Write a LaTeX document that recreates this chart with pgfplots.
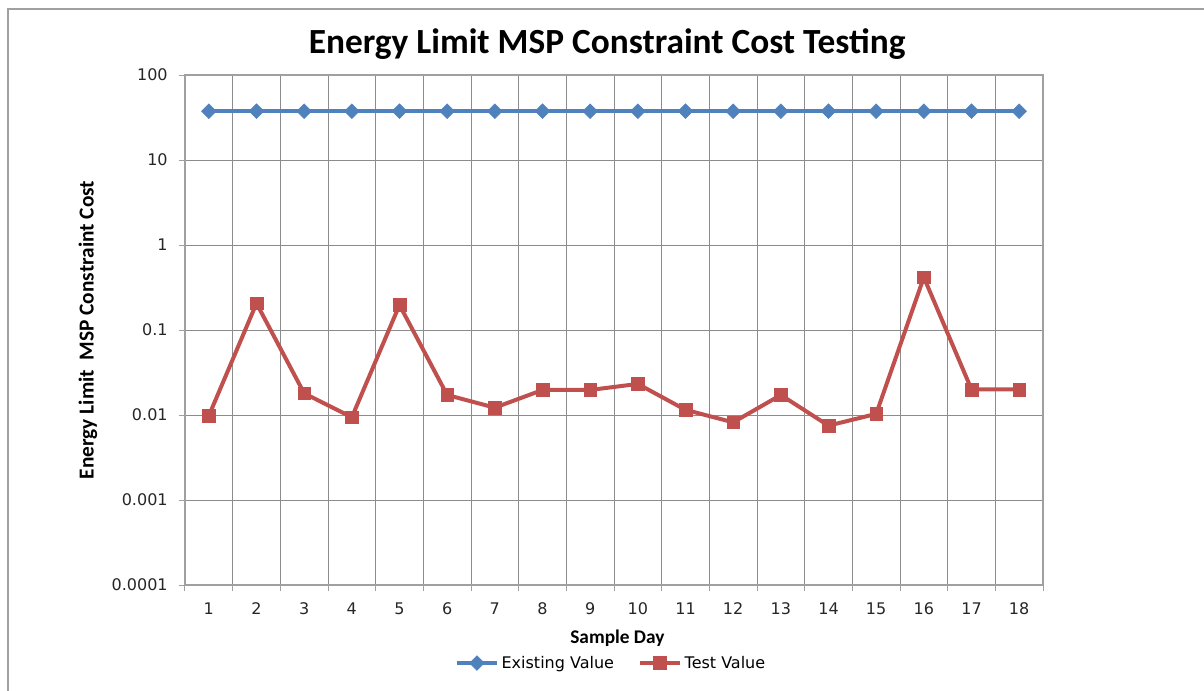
\documentclass[border=0pt]{standalone}
\usepackage{pgfplots}
\pgfplotsset{compat=1.18}
\usepackage{fontspec}
\setmainfont{Carlito}
\newfontfamily\tickfont{DejaVu Sans}
\definecolor{exblue}{RGB}{79,129,189}
\definecolor{tsred}{RGB}{192,80,77}
\definecolor{gridgray}{RGB}{140,140,140}
\definecolor{axgray}{RGB}{160,160,160}
\begin{document}
\begin{tikzpicture}
\path[use as bounding box] (0,0) rectangle (903pt,517.5pt);
\draw[axgray, line width=1.5pt] (6pt,-5pt) -- (6pt,510.75pt) -- (910pt,510.75pt);
\begin{axis}[
  at={(138.75pt,78.75pt)}, anchor=south west,
  width=643.5pt, height=382.5pt, scale only axis,
  ymode=log, ymin=1e-4, ymax=100,
  ytick={1e-4,1e-3,1e-2,1e-1,1,10,100},
  yticklabels={0.0001,0.001,0.01,0.1,1,10,100},
  yminorticks=false,
  xmin=0.5, xmax=18.5,
  xtick={0.5,1.5,...,18.5}, xticklabels={},
  extra x ticks={1,2,3,4,5,6,7,8,9,10,11,12,13,14,15,16,17,18},
  extra x tick labels={1,2,3,4,5,6,7,8,9,10,11,12,13,14,15,16,17,18},
  extra x tick style={major tick length=0pt, grid=none},
  xmajorgrids, ymajorgrids,
  grid style={gridgray, line width=0.75pt},
  axis line style={axgray, line width=0.9pt},
  tick style={axgray, line width=0.75pt},
  tick align=outside, major tick length=4.5pt,
  xtick pos=bottom, ytick pos=left,
  ticklabel style={font=\tickfont\fontsize{12}{14}\selectfont, black!85},
  xticklabel style={yshift=-10pt},
  yticklabel style={xshift=-5pt},
  title={Energy Limit MSP Constraint Cost Testing},
  title style={at={(axis description cs:0.492,1.045)}, anchor=center, font=\bfseries\fontsize{26.5}{30}\selectfont},
  xlabel={Sample Day},
  xlabel style={at={(axis description cs:0.504,-0.105)}, anchor=center, font=\bfseries\fontsize{14.5}{17}\selectfont},
  ylabel={Energy Limit\ \ MSP Constraint Cost},
  ylabel style={at={(axis description cs:-0.113,0.5)}, anchor=center, rotate=0, font=\bfseries\fontsize{16}{18}\selectfont},
  legend style={at={(axis description cs:0.497,-0.153)}, anchor=center, draw=none, fill=none,
    legend columns=2, font=\tickfont\fontsize{12}{14}\selectfont,
    /tikz/every even column/.append style={column sep=16pt}},
  legend image code/.code={
    \draw[#1, mark=none] (0pt,0pt) -- (30pt,0pt);
    \draw[#1, only marks] plot coordinates {(15pt,0pt)};
  },
]
\addplot[exblue, line width=3pt, mark=square*, mark size=3.9pt, mark options={solid, rotate=45, fill=exblue, line width=0.4pt}]
coordinates {(1,37.5)(2,37.5)(3,37.5)(4,37.5)(5,37.5)(6,37.5)(7,37.5)(8,37.5)(9,37.5)(10,37.5)(11,37.5)(12,37.5)(13,37.5)(14,37.5)(15,37.5)(16,37.5)(17,37.5)(18,37.5)};
\addlegendentry{Existing Value}
\addplot[tsred, line width=3pt, mark=square*, mark size=4.8pt, mark options={solid, fill=tsred, line width=0.4pt}]
coordinates {(1,0.0098)(2,0.206)(3,0.018)(4,0.0094)(5,0.197)(6,0.0172)(7,0.0122)(8,0.0197)(9,0.0197)(10,0.0232)(11,0.0115)(12,0.0082)(13,0.0172)(14,0.0075)(15,0.0103)(16,0.417)(17,0.020)(18,0.020)};
\addlegendentry{Test Value}
\end{axis}
\end{tikzpicture}
\end{document}
